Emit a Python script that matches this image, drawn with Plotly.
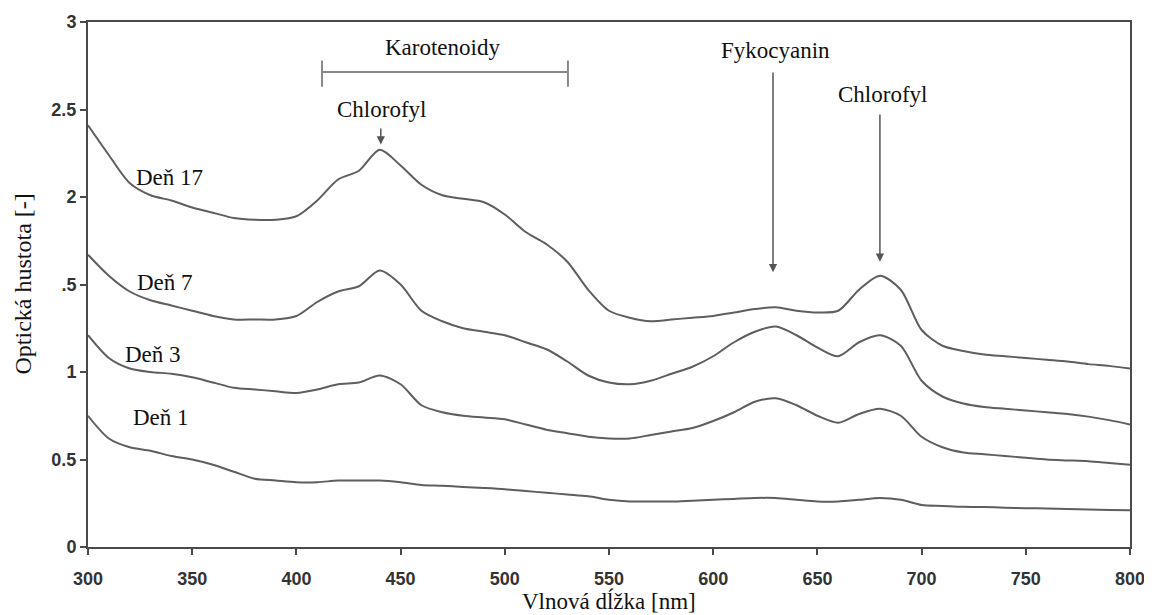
import plotly.graph_objects as go

wavelength = list(range(300, 801, 10))

den17 = [2.41, 2.24, 2.08, 2.01, 1.98, 1.94, 1.91, 1.88, 1.87, 1.87,
         1.89, 1.98, 2.10, 2.15, 2.27, 2.18, 2.07, 2.01, 1.99, 1.97,
         1.90, 1.80, 1.73, 1.63, 1.47, 1.35, 1.31, 1.29, 1.30, 1.31,
         1.32, 1.34, 1.36, 1.37, 1.35, 1.34, 1.35, 1.47, 1.55, 1.47,
         1.24, 1.15, 1.12, 1.10, 1.09, 1.08, 1.07, 1.06, 1.045, 1.035, 1.02]

den7 = [1.67, 1.55, 1.46, 1.41, 1.38, 1.35, 1.32, 1.30, 1.30, 1.30,
        1.32, 1.40, 1.46, 1.49, 1.58, 1.50, 1.35, 1.29, 1.25, 1.23,
        1.21, 1.17, 1.13, 1.06, 0.98, 0.94, 0.93, 0.95, 0.99, 1.03,
        1.09, 1.17, 1.23, 1.26, 1.21, 1.14, 1.09, 1.17, 1.21, 1.15,
        0.95, 0.86, 0.82, 0.80, 0.79, 0.78, 0.77, 0.76, 0.745, 0.725, 0.70]

den3 = [1.21, 1.08, 1.02, 1.00, 0.99, 0.97, 0.94, 0.91, 0.90, 0.89,
        0.88, 0.90, 0.93, 0.94, 0.98, 0.93, 0.81, 0.77, 0.75, 0.74,
        0.73, 0.70, 0.67, 0.65, 0.63, 0.62, 0.62, 0.64, 0.66, 0.68,
        0.72, 0.77, 0.83, 0.85, 0.81, 0.75, 0.71, 0.76, 0.79, 0.75,
        0.63, 0.57, 0.54, 0.53, 0.52, 0.51, 0.50, 0.495, 0.49, 0.48, 0.47]

den1 = [0.75, 0.62, 0.57, 0.55, 0.52, 0.50, 0.47, 0.43, 0.39, 0.38,
        0.37, 0.37, 0.38, 0.38, 0.38, 0.37, 0.355, 0.35, 0.343, 0.337,
        0.33, 0.32, 0.31, 0.30, 0.29, 0.27, 0.26, 0.26, 0.26, 0.265,
        0.27, 0.275, 0.28, 0.28, 0.27, 0.26, 0.26, 0.27, 0.28, 0.27,
        0.24, 0.235, 0.23, 0.228, 0.225, 0.222, 0.22, 0.217, 0.215, 0.212, 0.21]

series = [("Deň 17", den17), ("Deň 7", den7), ("Deň 3", den3), ("Deň 1", den1)]

x_ticks = list(range(300, 801, 50))
y_tickvals = [0, 0.5, 1, 1.5, 2, 2.5, 3]
y_ticktext = ["0", "0.5", "1", ".5", "2", "2.5", "3"]

series_labels = [("Deň 17", 339, 2.11), ("Deň 7", 337, 1.51), ("Deň 3", 331, 1.10), ("Deň 1", 335, 0.74)]

line_color = "#5e5e5e"
serif = "Liberation Serif, Times New Roman, serif"
sans = "Liberation Sans, Arial, sans-serif"
ann_size = 23

fig = go.Figure()
for name, vals in series:
    fig.add_trace(go.Scatter(x=wavelength, y=vals, mode="lines", name=name,
                             line=dict(color=line_color, width=2, shape="spline", smoothing=0.8),
                             showlegend=False))

for text, lx, ly in series_labels:
    fig.add_annotation(x=lx, y=ly, text=text, showarrow=False, xref="x", yref="y",
                       font=dict(family=serif, size=ann_size, color="#111"))

# Karotenoidy bracket
fig.add_shape(type="line", x0=412.3, x1=530.3, y0=2.714, y1=2.714, xref="x", yref="y",
              line=dict(color="#888", width=2))
fig.add_shape(type="line", x0=412.3, x1=412.3, y0=2.63, y1=2.78, xref="x", yref="y",
              line=dict(color="#888", width=2))
fig.add_shape(type="line", x0=530.3, x1=530.3, y0=2.63, y1=2.78, xref="x", yref="y",
              line=dict(color="#888", width=2))
fig.add_annotation(x=470.3, y=2.855, text="Karotenoidy", showarrow=False,
                   font=dict(family=serif, size=ann_size, color="#111"))

# Peak labels with arrows
peak_labels = [("Chlorofyl", 440.6, 2.50), ("Fykocyanin", 629.7, 2.84), ("Chlorofyl", 681.0, 2.585)]
for text, lx, ly in peak_labels:
    fig.add_annotation(x=lx, y=ly, text=text, showarrow=False,
                       font=dict(family=serif, size=ann_size, color="#111"))

arrows = [(440.5, 2.40, 2.30), (628.7, 2.72, 1.57), (680.0, 2.48, 1.63)]
for ax_x, y_start, y_end in arrows:
    fig.add_annotation(x=ax_x, y=y_end, ax=ax_x, ay=y_start, xref="x", yref="y",
                       axref="x", ayref="y", text="", showarrow=True,
                       arrowhead=2, arrowsize=1.1, arrowwidth=1.5, arrowcolor="#555")

# Axis titles
fig.add_annotation(x=0, y=0.5, xref="paper", yref="paper", xanchor="center", yanchor="middle",
                   xshift=-66, textangle=-90, text="Optická hustota [-]", showarrow=False,
                   font=dict(family=serif, size=24, color="#111"))
fig.add_annotation(x=0.5, y=0, xref="paper", yref="paper", xanchor="center", yanchor="middle",
                   yshift=-54, text="Vlnová dĺžka [nm]", showarrow=False,
                   font=dict(family=serif, size=23, color="#111"))

fig.update_layout(
    width=1144, height=607,
    margin=dict(l=80, r=22, t=14, b=68, autoexpand=False),
    paper_bgcolor="white", plot_bgcolor="white",
    font=dict(family=sans, color="#333"),
)
tickfont = dict(size=18, family=sans, color="#333", weight="bold")
fig.update_xaxes(range=[300, 800], tickvals=x_ticks, showgrid=False, zeroline=False,
                 showline=True, linecolor="#4a4a4a", linewidth=2, mirror=True,
                 ticks="outside", ticklen=6, tickcolor="#4a4a4a", tickwidth=1.5,
                 tickfont=tickfont, ticklabelstandoff=8, automargin=False)
fig.update_yaxes(range=[0, 3], tickvals=y_tickvals, ticktext=y_ticktext, showgrid=False,
                 zeroline=False, showline=True, linecolor="#4a4a4a", linewidth=2, mirror=True,
                 ticks="outside", ticklen=6, tickcolor="#4a4a4a", tickwidth=1.5,
                 tickfont=tickfont, automargin=False)

fig.write_html("out.html")
